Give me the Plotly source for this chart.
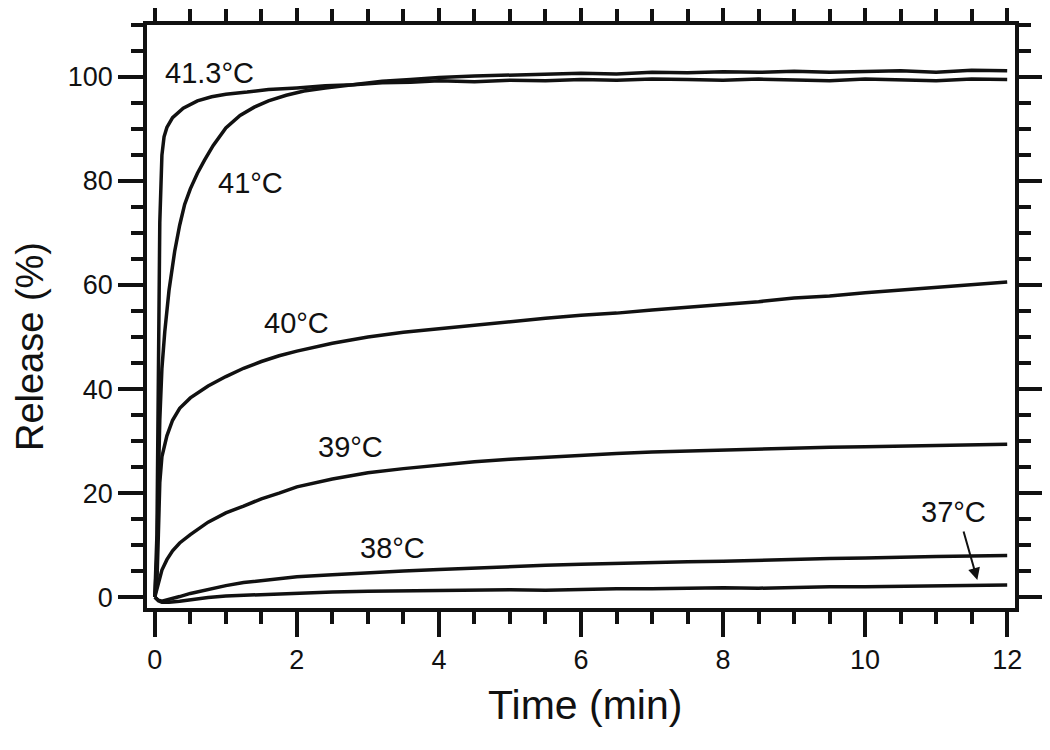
import plotly.graph_objects as go

# ======================================================
# Release kinetics at different temperatures
# ======================================================
t_413 = [0, 0.03, 0.05, 0.07, 0.1, 0.13, 0.17, 0.25, 0.4, 0.6, 0.8, 1.0, 1.3, 1.6, 2.0, 2.4, 2.8,
         3.2, 3.6, 4.0, 4.5, 5.0, 5.5, 6.0, 6.5, 7.0, 7.5, 8.0, 8.5, 9.0, 9.5, 10.0, 10.5, 11.0, 11.5, 12.0]
v_413 = [0, 12, 42, 72, 85, 88.5, 90.3, 92.2, 94.0, 95.4, 96.2, 96.7, 97.1, 97.6, 97.9, 98.3, 98.5,
         98.9, 99.0, 99.3, 99.1, 99.4, 99.3, 99.5, 99.4, 99.6, 99.5, 99.4, 99.6, 99.5, 99.3, 99.6, 99.5, 99.3, 99.6, 99.5]

t_41 = [0, 0.03, 0.05, 0.07, 0.1, 0.14, 0.2, 0.28, 0.35, 0.42, 0.5, 0.6, 0.7, 0.82, 1.0, 1.2, 1.4, 1.6,
        1.85, 2.1, 2.4, 2.8, 3.2, 3.6, 4.0, 4.5, 5.0, 5.5, 6.0, 6.5, 7.0, 7.5, 8.0, 8.5, 9.0, 9.5, 10.0,
        10.5, 11.0, 11.5, 12.0]
v_41 = [0, 8, 22, 34, 44, 51, 59, 66.5, 71.5, 75.5, 78.5, 81.5, 84, 86.8, 90.2, 92.6, 94.2, 95.4,
        96.5, 97.3, 97.9, 98.6, 99.2, 99.5, 99.9, 100.2, 100.4, 100.6, 100.7, 100.6, 100.9, 100.8, 101.0,
        100.9, 101.1, 100.9, 101.0, 101.2, 100.9, 101.3, 101.2]

t_40 = [0, 0.03, 0.05, 0.07, 0.1, 0.17, 0.25, 0.35, 0.5, 0.75, 1.0, 1.25, 1.5, 1.75, 2.0, 2.5, 3.0,
        3.5, 4.0, 4.5, 5.0, 5.5, 6.0, 6.5, 7.0, 7.5, 8.0, 8.5, 9.0, 9.5, 10.0, 10.5, 11.0, 11.5, 12.0]
v_40 = [0, 3, 12, 22, 27, 31, 34, 36.3, 38.3, 40.6, 42.4, 44, 45.3, 46.4, 47.3, 48.8, 50.0,
        50.9, 51.6, 52.3, 52.9, 53.6, 54.2, 54.6, 55.2, 55.7, 56.3, 56.8, 57.5, 57.9, 58.5, 59.0, 59.6, 60.0, 60.6]

t_39 = [0, 0.03, 0.06, 0.1, 0.17, 0.25, 0.35, 0.5, 0.75, 1.0, 1.25, 1.5, 1.75, 2.0, 2.5, 3.0, 3.5,
        4.0, 4.5, 5.0, 5.5, 6.0, 6.5, 7.0, 7.5, 8.0, 8.5, 9.0, 9.5, 10.0, 10.5, 11.0, 11.5, 12.0]
v_39 = [0, 1.5, 3.5, 5.2, 7.2, 8.9, 10.4, 12.0, 14.4, 16.2, 17.5, 18.9, 20.0, 21.2, 22.7, 23.9, 24.7,
        25.4, 26.0, 26.5, 26.9, 27.3, 27.6, 27.9, 28.1, 28.3, 28.5, 28.7, 28.8, 28.9, 29.0, 29.2, 29.3, 29.4]

t_38 = [0, 0.05, 0.1, 0.2, 0.35, 0.5, 0.75, 1.0, 1.25, 1.5, 2.0, 2.5, 3.0, 3.5, 4.0, 4.5, 5.0, 5.5,
        6.0, 6.5, 7.0, 7.5, 8.0, 8.5, 9.0, 9.5, 10.0, 10.5, 11.0, 11.5, 12.0]
v_38 = [0, -0.6, -0.8, -0.5, 0.1, 0.7, 1.5, 2.2, 2.8, 3.2, 3.9, 4.3, 4.7, 5.0, 5.3, 5.6, 5.9, 6.1,
        6.3, 6.5, 6.6, 6.8, 6.9, 7.1, 7.3, 7.4, 7.5, 7.7, 7.8, 7.9, 8.0]

t_37 = [0, 0.05, 0.1, 0.2, 0.35, 0.5, 0.75, 1.0, 1.5, 2.0, 2.5, 3.0, 3.5, 4.0, 4.5, 5.0, 5.5, 6.0,
        6.5, 7.0, 7.5, 8.0, 8.5, 9.0, 9.5, 10.0, 10.5, 11.0, 11.5, 12.0]
v_37 = [0, -0.7, -1.0, -1.0, -0.8, -0.5, -0.1, 0.2, 0.5, 0.8, 1.0, 1.1, 1.2, 1.3, 1.3, 1.4, 1.3, 1.5,
        1.6, 1.6, 1.7, 1.8, 1.7, 1.9, 2.0, 2.0, 2.1, 2.2, 2.2, 2.3]

labels = ["41.3°C", "41°C", "40°C", "39°C", "38°C"]
label_x = [0.77, 1.34, 1.99, 2.75, 3.34]
label_y = [100.8, 79.6, 52.7, 28.8, 9.4]

FONT = "Liberation Sans, Arial, sans-serif"
INK = "#111111"

fig = go.Figure()

for t, v in [(t_413, v_413), (t_41, v_41), (t_40, v_40), (t_39, v_39), (t_38, v_38), (t_37, v_37)]:
    fig.add_trace(
        go.Scatter(
            x=t,
            y=v,
            mode="lines",
            line=dict(color=INK, width=3.5),
            showlegend=False,
        )
    )

for txt, lx, ly in zip(labels, label_x, label_y):
    fig.add_annotation(x=lx, y=ly, text=txt, showarrow=False,
                       font=dict(family=FONT, size=29, color=INK))

# 37°C label with arrow
fig.add_annotation(x=11.24, y=16.3, text="37°C", showarrow=False,
                   font=dict(family=FONT, size=29, color=INK))
fig.add_annotation(x=11.58, y=3.3, ax=11.38, ay=12.9, axref="x", ayref="y",
                   text="", showarrow=True, arrowhead=2, arrowsize=1.2,
                   arrowwidth=2, arrowcolor=INK)

# axis titles
fig.add_annotation(x=-0.135, y=0.449, xref="paper", yref="paper", text="Release (%)",
                   textangle=-90, showarrow=False, xanchor="center", yanchor="middle",
                   font=dict(family=FONT, size=38, color=INK))
fig.add_annotation(x=0.5046, y=-0.166, xref="paper", yref="paper", text="Time (min)",
                   showarrow=False, xanchor="center", yanchor="middle",
                   font=dict(family=FONT, size=41, color=INK))

axis_style = dict(
    automargin=False,
    showline=True,
    linecolor=INK,
    linewidth=3.5,
    mirror="ticks",
    ticks="outside",
    ticklen=25,
    tickwidth=3.5,
    tickcolor=INK,
    showgrid=False,
    zeroline=False,
    tickfont=dict(family=FONT, size=27, color=INK),
)

fig.update_xaxes(
    range=[-0.11, 12.11],
    tickvals=[0, 2, 4, 6, 8, 10, 12],
    minor=dict(dtick=0.5, tick0=0, ticks="outside", ticklen=12, tickwidth=3.5, tickcolor=INK),
    **axis_style,
)
fig.update_yaxes(
    range=[-2.1, 110],
    tickvals=[0, 20, 40, 60, 80, 100],
    minor=dict(dtick=5, tick0=0, ticks="outside", ticklen=12, tickwidth=3.5, tickcolor=INK),
    **axis_style,
)

# page body adds an 8px offset, so margins are shifted to compensate
fig.update_layout(
    width=1050,
    height=750,
    margin=dict(l=139, r=43, t=17, b=150),
    paper_bgcolor="white",
    plot_bgcolor="white",
    font=dict(family=FONT, color=INK),
)

fig.write_html("out.html")
